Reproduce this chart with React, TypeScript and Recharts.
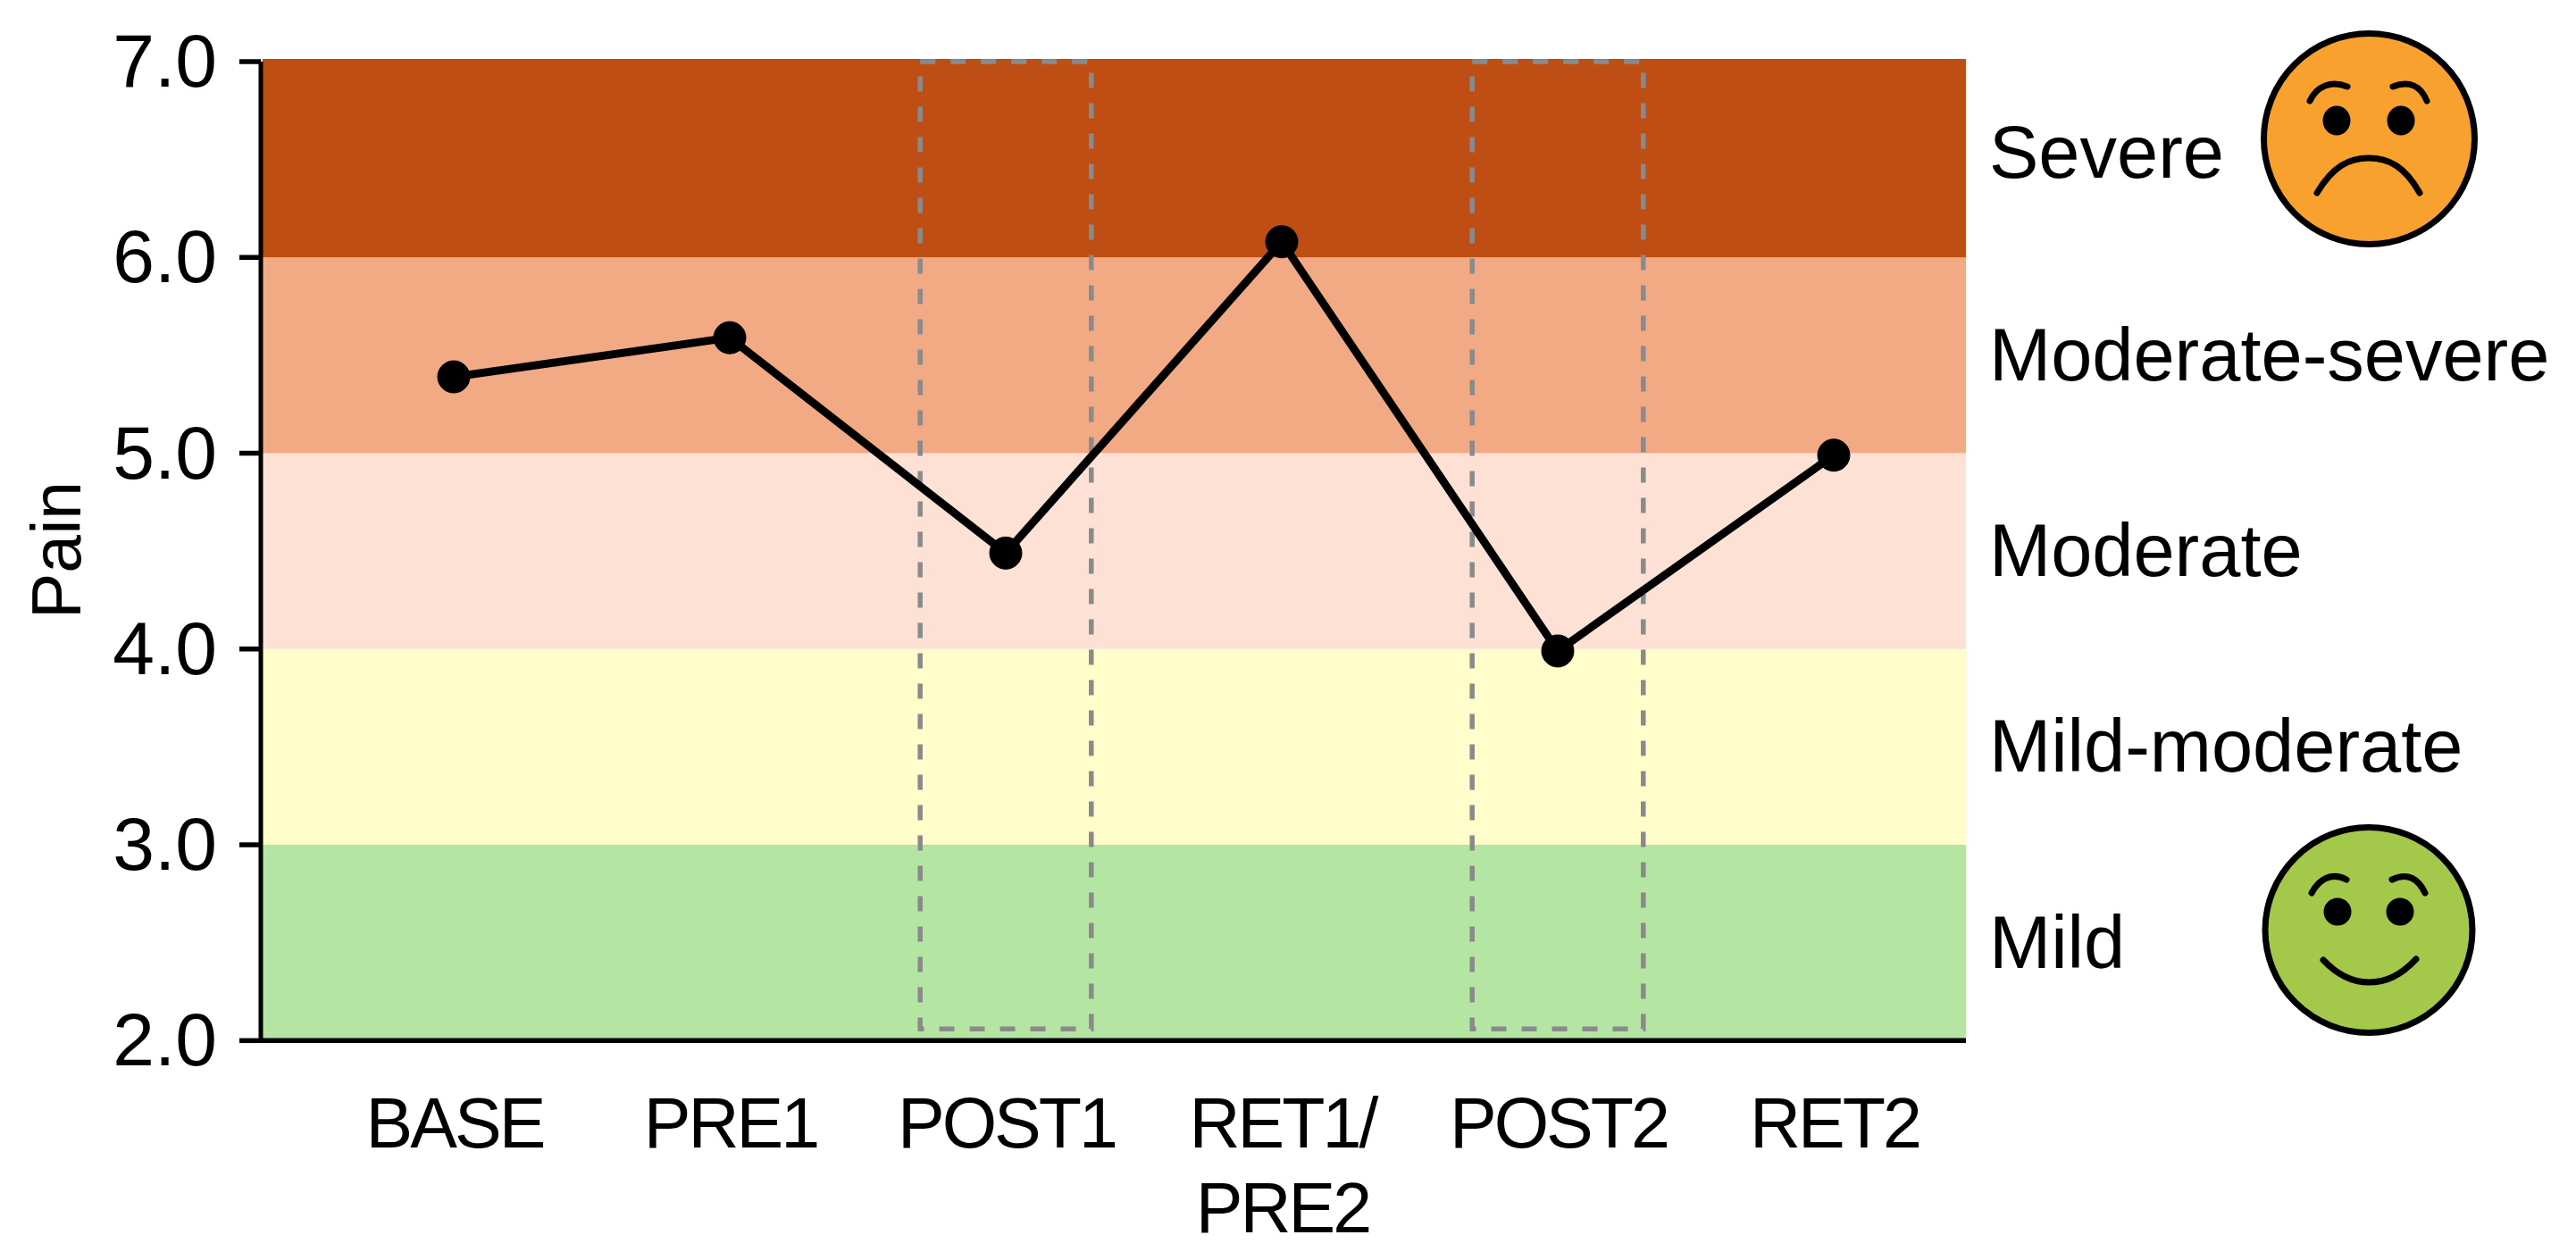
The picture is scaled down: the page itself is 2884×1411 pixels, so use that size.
import React from 'react';
import { LineChart, Line, XAxis, YAxis, ReferenceArea } from 'recharts';

const categories = [['BASE'], ['PRE1'], ['POST1'], ['RET1/', 'PRE2'], ['POST2'], ['RET2']];
const painValues = [5.39, 5.59, 4.49, 6.08, 3.99, 4.99];
const painTicks = [2, 3, 4, 5, 6, 7];
const bandEdges = [2.01, 3, 4, 5, 6, 7.014];
const bandColors = ['#B5E5A2', '#FFFDC9', '#FCE1D4', '#F2AA84', '#BE4E13'];
const severityLabels = ['Mild', 'Mild-moderate', 'Moderate', 'Moderate-severe', 'Severe'];
const severityPositions = [2.5, 3.5, 4.5, 5.5, 6.535];
const highlighted = [2, 4];
const highlightHalfWidth = 0.31;
const highlightBottom = 2.06;
const highlightTop = 7;
const xDomain = [-0.699, 5.479];
const bandStart = -0.6926;

const FONT = '"Liberation Sans", Arial, sans-serif';
const chartData = categories.map((c, i) => ({ idx: i, pain: painValues[i] }));

const LeftTick = (p: any) => (
  <text x={p.x - 25} y={p.y + 28} textAnchor="end" fontFamily={FONT} fontSize={84} fill="#000">
    {Number(p.payload.value).toFixed(1)}
  </text>
);

const BottomTick = (p: any) => (
  <text textAnchor="middle" fontFamily={FONT} fontSize={79} letterSpacing={-3} fill="#000">
    {categories[p.payload.value].map((line, i) => (
      <tspan key={i} x={p.x + 1} y={p.y + 120 + i * 95}>{line}</tspan>
    ))}
  </text>
);

const RightTick = (p: any) => (
  <text x={p.x - 1} y={p.y + 28} textAnchor="start" fontFamily={FONT} fontSize={83} fill="#000">
    {severityLabels[p.index]}
  </text>
);

const PainLabel = () => (
  <text transform="translate(90,693) rotate(-90)" fontFamily={FONT} fontSize={77} fill="#000">Pain</text>
);

const Faces = () => (
  <svg width={2884} height={1411} style={{ position: 'absolute', left: 0, top: 0, pointerEvents: 'none' }}>
    <g stroke="#000" strokeWidth={7} strokeLinecap="round" fill="none">
      <ellipse cx={2652.5} cy={155.5} rx={118} ry={118} fill="#F9A12E" />
      <path d="M2586 113C2594 96 2610 90 2628 97" />
      <path d="M2679 97C2697 90 2710 96 2717 113" />
      <path d="M2594 216C2612 186 2630 177 2652 177C2674 177 2692 186 2709 216" />
      <ellipse cx={2616} cy={135} rx={12} ry={13} fill="#000" />
      <ellipse cx={2688} cy={135} rx={12} ry={13} fill="#000" />
      <ellipse cx={2652} cy={1041.5} rx={116} ry={115} fill="#A3C84A" />
      <path d="M2588 1000C2596 985 2610 976 2627 985" />
      <path d="M2678 985C2696 976 2708 985 2715 1000" />
      <path d="M2601 1075C2618 1093 2634 1100 2652 1100C2672 1100 2688 1092 2705 1074" />
      <circle cx={2617} cy={1021} r={12} fill="#000" />
      <circle cx={2687} cy={1021} r={12} fill="#000" />
    </g>
  </svg>
);

export default function App() {
  return (
    <div style={{ position: 'absolute', left: 0, top: 0, width: 2884, height: 1411, background: '#fff' }}>
      <LineChart width={2884} height={1411} data={chartData} margin={{ top: 69, right: 0, bottom: 0, left: 0 }}>
        <XAxis
          dataKey="idx"
          type="number"
          domain={xDomain}
          ticks={chartData.map((d) => d.idx)}
          allowDataOverflow
          height={245.7}
          tick={BottomTick}
          tickLine={false}
          tickSize={0}
          tickMargin={0}
          interval={0}
          axisLine={{ stroke: '#000', strokeWidth: 5.5 }}
        />
        <YAxis
          yAxisId="left"
          width={292}
          domain={[2, 7]}
          ticks={painTicks}
          interval={0}
          tick={LeftTick}
          tickSize={24}
          tickMargin={0}
          tickLine={{ stroke: '#000', strokeWidth: 5.5 }}
          axisLine={{ stroke: '#000', strokeWidth: 5 }}
          label={<PainLabel />}
        />
        <YAxis
          yAxisId="right"
          orientation="right"
          width={683}
          domain={[2, 7]}
          ticks={severityPositions}
          interval={0}
          tick={RightTick}
          tickLine={false}
          tickSize={0}
          tickMargin={27}
          axisLine={false}
        />
        {bandColors.map((color, i) => (
          <ReferenceArea
            key={color}
            yAxisId="left"
            x1={bandStart}
            x2={xDomain[1]}
            y1={bandEdges[i]}
            y2={bandEdges[i + 1]}
            fill={color}
            fillOpacity={1}
            stroke="none"
            ifOverflow="visible"
          />
        ))}
        {highlighted.map((h) => (
          <ReferenceArea
            key={h}
            yAxisId="left"
            x1={h - highlightHalfWidth}
            x2={h + highlightHalfWidth}
            y1={highlightBottom}
            y2={highlightTop}
            fill="none"
            fillOpacity={0}
            stroke="#8A8A8A"
            strokeWidth={5.5}
            strokeDasharray="17 17"
            ifOverflow="visible"
          />
        ))}
        <Line
          yAxisId="right"
          dataKey="pain"
          stroke="none"
          dot={false}
          activeDot={false}
          isAnimationActive={false}
        />
        <Line
          yAxisId="left"
          dataKey="pain"
          stroke="#000"
          strokeWidth={9}
          dot={{ r: 18, fill: '#000', stroke: '#000', strokeWidth: 1 }}
          isAnimationActive={false}
        />
      </LineChart>
      <Faces />
    </div>
  );
}
